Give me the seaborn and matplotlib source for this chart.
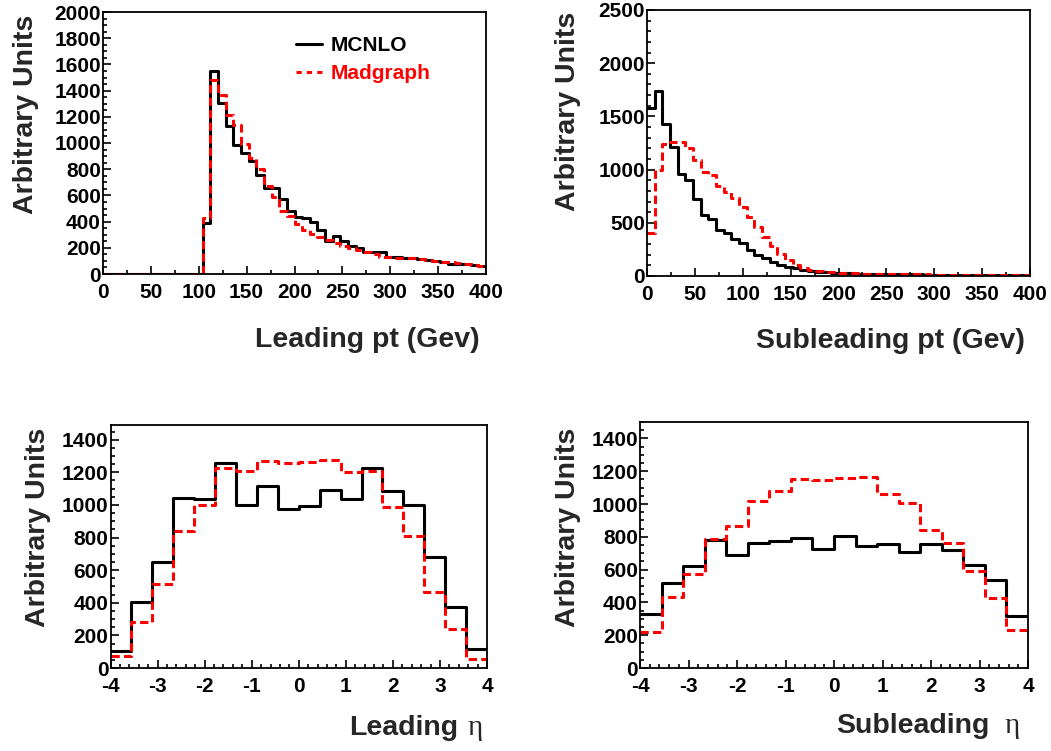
import numpy as np
import pandas as pd
import seaborn as sns
import matplotlib.pyplot as plt
from matplotlib.lines import Line2D
from matplotlib.ticker import MultipleLocator

# bin layout (8 GeV bins for pt, 18 bins for eta)
pt_range, pt_nbins = (0, 400), 50
eta_range, eta_nbins = (-4, 4), 18

# leading pt
lead_pt_mcnlo = [0, 0, 0, 0, 0, 0, 0, 0, 0, 0, 0, 0, 0,
                 391, 1548, 1306, 1128, 983, 925, 864, 755, 658, 658, 572, 483,
                 432, 424, 399, 335, 254, 292, 254, 213, 196, 170, 165, 165, 132,
                 127, 119, 119, 112, 110, 100, 95, 80, 80, 75, 68, 60]
lead_pt_madgraph = [0, 0, 0, 0, 0, 0, 0, 0, 0, 0, 0, 0, 0,
                    424, 1479, 1370, 1212, 1136, 991, 889, 800, 673, 584, 483, 442,
                    381, 335, 305, 280, 259, 239, 213, 196, 183, 170, 152, 132, 132,
                    119, 119, 125, 115, 108, 100, 95, 88, 82, 75, 70, 62]

# subleading pt
sub_pt_mcnlo = [1581, 1738, 1425, 1213, 963, 900, 722, 572, 534, 431, 400, 344,
                306, 244, 197, 166, 134, 103, 88, 72, 56, 45, 38, 33, 30, 27, 25,
                23, 22, 20, 19, 18, 17, 16, 15, 15, 14, 14, 13, 13, 12, 12, 12, 11,
                11, 11, 10, 10, 10, 10]
sub_pt_madgraph = [400, 1000, 1240, 1260, 1255, 1200, 1090, 980, 945, 845, 790,
                   730, 650, 555, 465, 370, 280, 210, 150, 105, 72, 55, 45, 38, 33,
                   30, 27, 25, 23, 21, 20, 19, 18, 17, 16, 15, 15, 14, 14, 13, 13,
                   12, 12, 12, 11, 11, 11, 10, 10, 10]

# leading eta
lead_eta_mcnlo = [103, 405, 651, 1045, 1035, 1259, 1000, 1113, 975, 996, 1094,
                  1035, 1226, 1088, 1000, 682, 374, 117]
lead_eta_madgraph = [72, 281, 513, 840, 1000, 1226, 1209, 1271, 1259, 1263, 1273,
                     1201, 1209, 986, 811, 466, 240, 55]

# subleading eta
sub_eta_mcnlo = [329, 521, 624, 778, 686, 764, 772, 793, 723, 807, 743, 754, 710,
                 758, 721, 628, 535, 315]
sub_eta_madgraph = [222, 434, 576, 786, 865, 1019, 1081, 1155, 1149, 1161, 1165,
                    1062, 1005, 844, 764, 589, 428, 233]

W, H = 1051, 751
LW = 2.2
DASH = (2.7, 1.4)

sns.set_style("white")
plt.rcParams["font.family"] = ["Liberation Sans", "DejaVu Sans"]
plt.rcParams["font.weight"] = "bold"
plt.rcParams["axes.labelweight"] = "bold"
plt.rcParams["axes.linewidth"] = 1.3
plt.rcParams["axes.edgecolor"] = "black"
plt.rcParams["axes.unicode_minus"] = False

fig = plt.figure(figsize=(W / 100, H / 100), dpi=100)


def px_axes(left, top, right, bottom):
    return fig.add_axes([left / W, 1 - bottom / H, (right - left) / W, (bottom - top) / H])


def draw_hist(ax, rng, nbins, mcnlo, madgraph):
    width = (rng[1] - rng[0]) / nbins
    centers = rng[0] + width * (np.arange(nbins) + 0.5)
    df = pd.DataFrame({"center": centers, "MCNLO": mcnlo, "Madgraph": madgraph})
    sns.histplot(data=df, x="center", weights="MCNLO", bins=nbins, binrange=rng,
                 element="step", fill=False, color="black", linewidth=LW, ax=ax)
    sns.histplot(data=df, x="center", weights="Madgraph", bins=nbins, binrange=rng,
                 element="step", fill=False, color="red", linewidth=LW,
                 dashes=DASH, ax=ax)


def style_axes(ax, xlim, ylim, xmaj, xmin, ymaj, ymin):
    ax.set_xlim(*xlim)
    ax.set_ylim(*ylim)
    ax.xaxis.set_major_locator(MultipleLocator(xmaj))
    ax.xaxis.set_minor_locator(MultipleLocator(xmin))
    ax.yaxis.set_major_locator(MultipleLocator(ymaj))
    ax.yaxis.set_minor_locator(MultipleLocator(ymin))
    ax.tick_params(which="both", direction="in", top=False, right=False,
                   bottom=True, left=True, width=1.2, colors="black")
    ax.tick_params(which="major", length=5.5)
    ax.tick_params(which="minor", length=3)
    ax.tick_params(axis="x", labelsize=15, pad=6.5)
    ax.tick_params(axis="y", labelsize=15, pad=1.5)
    for lab in ax.get_xticklabels() + ax.get_yticklabels():
        lab.set_fontweight("bold")
    for sp in ax.spines.values():
        sp.set_visible(True)
        sp.set_linewidth(1.3)
    ax.set_ylabel("Arbitrary Units", fontsize=20.5, loc="top")


# top-left: leading pt
ax1 = px_axes(103, 12, 486, 274)
draw_hist(ax1, pt_range, pt_nbins, lead_pt_mcnlo, lead_pt_madgraph)
style_axes(ax1, (0, 400), (0, 2000), 50, 25, 200, 50)
ax1.set_xlabel("Leading pt (Gev)", fontsize=20.5, loc="right", va="baseline")
ax1.xaxis.set_label_coords(0.984, -0.279)
ax1.yaxis.set_label_coords(-0.167, 0.989)

handles = [Line2D([], [], color="black", lw=LW),
           Line2D([], [], color="red", lw=LW, dashes=(1.7, 1.7))]
leg = ax1.legend(handles, ["MCNLO", "Madgraph"], frameon=False, fontsize=15,
                 loc="upper left", bbox_to_anchor=(296 / W, 1 - 36 / H),
                 bbox_transform=fig.transFigure, handlelength=1.25,
                 handletextpad=0.4, labelspacing=0.45, borderpad=0, borderaxespad=0)
for txt, col in zip(leg.get_texts(), ["black", "red"]):
    txt.set_color(col)
    txt.set_fontweight("bold")

# top-right: subleading pt
ax2 = px_axes(647, 10, 1030, 276)
draw_hist(ax2, pt_range, pt_nbins, sub_pt_mcnlo, sub_pt_madgraph)
style_axes(ax2, (0, 400), (0, 2500), 50, 25, 500, 100)
ax2.set_xlabel("Subleading pt (Gev)", fontsize=20.5, loc="right", va="baseline")
ax2.xaxis.set_label_coords(0.987, -0.271)
ax2.yaxis.set_label_coords(-0.172, 0.992)

# bottom-left: leading eta
ax3 = px_axes(110.5, 425, 487, 668)
draw_hist(ax3, eta_range, eta_nbins, lead_eta_mcnlo, lead_eta_madgraph)
style_axes(ax3, (-4, 4), (0, 1490), 1, 0.2, 200, 50)
ax3.set_xlabel("Leading", fontsize=20.5, loc="right", va="baseline")
ax3.xaxis.set_label_coords(0.923, -0.277)
ax3.text(0.9495, -0.277, "η", transform=ax3.transAxes, fontsize=21,
         family="Liberation Serif", fontweight="normal", va="baseline", ha="left")
ax3.yaxis.set_label_coords(-0.158, 0.988)

# bottom-right: subleading eta
ax4 = px_axes(640, 422, 1028, 668)
draw_hist(ax4, eta_range, eta_nbins, sub_eta_mcnlo, sub_eta_madgraph)
style_axes(ax4, (-4, 4), (0, 1500), 1, 0.2, 200, 50)
ax4.set_xlabel("Subleading", fontsize=20.5, loc="right", va="baseline")
ax4.xaxis.set_label_coords((990 - 640) / 388, -0.265)
ax4.text((1005 - 640) / 388, -0.265, "η", transform=ax4.transAxes, fontsize=21,
         family="Liberation Serif", fontweight="normal", va="baseline", ha="left")
ax4.yaxis.set_label_coords(-0.152, 0.976)

fig.savefig("out.png", dpi=100)
